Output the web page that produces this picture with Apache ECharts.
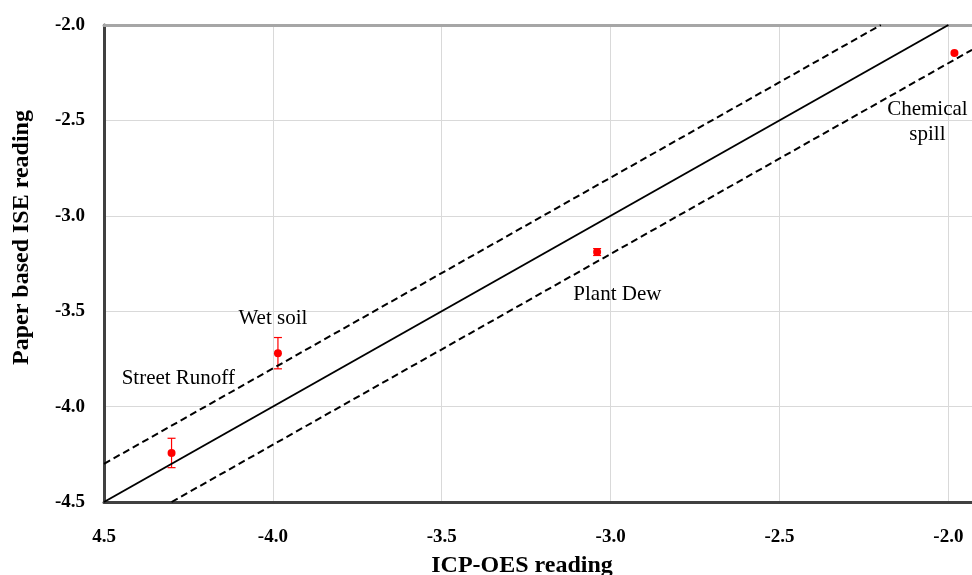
<!DOCTYPE html>
<html>
<head>
    <meta charset="utf-8">
    <title>ISE vs ICP-OES</title>
    <script src="https://cdn.jsdelivr.net/npm/echarts@6/dist/echarts.min.js"></script>
    <style>
        html, body { margin: 0; padding: 0; background: #fff; }
    </style>
</head>
<body>
<div id="main" style="width: 972px;height:575px;"></div>
<script type="text/javascript">
    // samples: ICP-OES reading (x), paper ISE reading (y), error (+/-)
    var sampleNames = ['Street Runoff', 'Wet soil', 'Plant Dew', 'Chemical spill'];
    var icpValues = [-4.30, -3.985, -3.04, -1.982];
    var iseValues = [-4.243, -3.72, -3.19, -2.147];
    var iseErrors = [0.077, 0.082, 0.018, 0];

    // reference lines
    var lineIdeal = [[-4.5, -4.5], [-2.0, -2.0]];
    var lineUpper = [[-4.5, -4.3], [-2.2, -2.0]];
    var lineLower = [[-4.3, -4.5], [-1.93, -2.13]];

    var xTickLabels = {'-4.5': '4.5', '-4': '-4.0', '-3.5': '-3.5', '-3': '-3.0', '-2.5': '-2.5', '-2': '-2.0'};

    // text label anchors
    var labelPos = [[-4.28, -3.855], [-4.0, -3.54], [-2.98, -3.41], [-2.062, -2.51]];
    var labelText = ['Street Runoff', 'Wet soil', 'Plant Dew', 'Chemical\nspill'];

    var serif = 'Liberation Serif';
    var myChart = echarts.init(document.getElementById('main'));

    var points = icpValues.map(function (x, i) { return [x, iseValues[i], iseErrors[i]]; });
    var labels = labelPos.map(function (p, i) { return { value: p, name: labelText[i] }; });

    myChart.setOption({
        animation: false,
        grid: { left: 104, right: 0, top: 25, bottom: 73, outerBoundsMode: 'none', containLabel: false },
        xAxis: [{
            type: 'value',
            min: -4.5,
            max: -1.93,
            interval: 0.5,
            name: 'ICP-OES reading',
            nameLocation: 'middle',
            nameGap: 52,
            nameTextStyle: { fontFamily: serif, fontWeight: 'bold', fontSize: 24, color: '#000', padding: [0, 32, 0, 0] },
            axisLine: { show: true, onZero: false, lineStyle: { color: '#404040', width: 3 } },
            axisTick: { show: false },
            axisLabel: {
                margin: 26,
                showMaxLabel: false,
                fontFamily: serif, fontWeight: 'bold', fontSize: 19, color: '#000',
                formatter: function (v) {
                    var k = String(Math.round(v * 10) / 10);
                    return xTickLabels[k] !== undefined ? xTickLabels[k] : '';
                }
            },
            splitLine: { show: true, lineStyle: { color: '#d9d9d9', width: 1 } }
        }, {
            type: 'value',
            position: 'top',
            min: -4.5,
            max: -1.93,
            axisLine: { show: true, onZero: false, lineStyle: { color: '#a6a6a6', width: 3 } },
            axisTick: { show: false },
            axisLabel: { show: false },
            splitLine: { show: false }
        }],
        yAxis: {
            type: 'value',
            min: -4.5,
            max: -2.0,
            interval: 0.5,
            name: 'Paper based ISE reading',
            nameLocation: 'middle',
            nameGap: 70,
            nameTextStyle: { fontFamily: serif, fontWeight: 'bold', fontSize: 24, color: '#000', padding: [0, 0, 0, 52] },
            axisLine: { show: true, onZero: false, lineStyle: { color: '#404040', width: 3 } },
            axisTick: { show: false },
            axisLabel: {
                margin: 19,
                fontFamily: serif, fontWeight: 'bold', fontSize: 19, color: '#000',
                formatter: function (v) { return v.toFixed(1); }
            },
            splitLine: { show: true, lineStyle: { color: '#d9d9d9', width: 1 } }
        },
        series: [
            {
                type: 'line', data: lineIdeal, symbol: 'none',
                lineStyle: { color: '#000', width: 2 }
            },
            {
                type: 'line', data: lineUpper, symbol: 'none',
                lineStyle: { color: '#000', width: 2, type: [7, 4] }
            },
            {
                type: 'line', data: lineLower, symbol: 'none',
                lineStyle: { color: '#000', width: 2, type: [7, 4] }
            },
            {
                type: 'custom',
                data: points,
                renderItem: function (params, api) {
                    var x = api.value(0), y = api.value(1), e = api.value(2);
                    if (!e) return null;
                    var top = api.coord([x, y + e]);
                    var bot = api.coord([x, y - e]);
                    var cap = 4;
                    var st = { stroke: '#ff0000', lineWidth: 1.2 };
                    return {
                        type: 'group',
                        children: [
                            { type: 'line', shape: { x1: top[0], y1: top[1], x2: bot[0], y2: bot[1] }, style: st },
                            { type: 'line', shape: { x1: top[0] - cap, y1: top[1], x2: top[0] + cap, y2: top[1] }, style: st },
                            { type: 'line', shape: { x1: bot[0] - cap, y1: bot[1], x2: bot[0] + cap, y2: bot[1] }, style: st }
                        ]
                    };
                },
                z: 3
            },
            {
                type: 'scatter',
                data: points,
                symbolSize: 8,
                itemStyle: { color: '#ff0000', opacity: 1 },
                z: 4
            },
            {
                type: 'scatter',
                data: labels,
                symbolSize: 0,
                silent: true,
                itemStyle: { opacity: 1 },
                label: {
                    show: true,
                    position: 'inside',
                    formatter: '{b}',
                    fontFamily: serif,
                    fontSize: 21,
                    lineHeight: 25,
                    color: '#000'
                },
                z: 5
            }
        ]
    });
</script>
</body>
</html>
